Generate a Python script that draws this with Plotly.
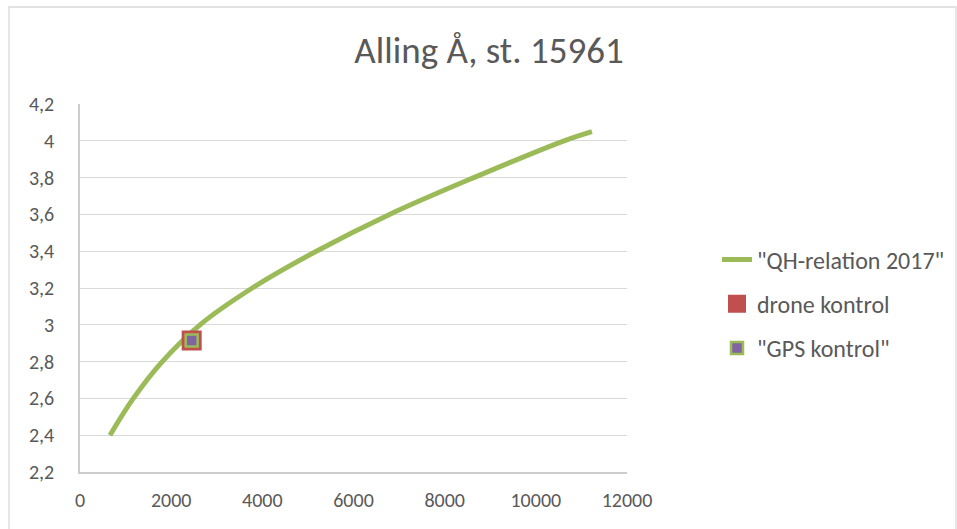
import plotly.graph_objects as go

# Rating curve (discharge Q vs stage H)
qh_q = [658, 1170, 1805, 2633, 3780, 5185, 6790, 8640, 10620, 11230]
qh_h = [2.40, 2.60, 2.80, 3.00, 3.20, 3.40, 3.60, 3.80, 4.00, 4.050]

# Control measurements
drone_q = [2450]
drone_h = [2.915]
gps_q = [2450]
gps_h = [2.915]

x_ticks = [0, 2000, 4000, 6000, 8000, 10000, 12000]
y_ticks = [2.2, 2.4, 2.6, 2.8, 3.0, 3.2, 3.4, 3.6, 3.8, 4.0, 4.2]

FONT = "Calibri, Carlito, Lato, sans-serif"
TEXT = "#595959"
GRID = "#D9D9D9"

W, H = 957, 529
L, R, T, B = 80, 627, 104, 472


def px_x(p):
    return (p - L) / (R - L)


def px_y(p):
    return (B - p) / (B - T)


fig = go.Figure()
fig.add_trace(go.Scatter(
    x=qh_q, y=qh_h, mode="lines", name='"QH-relation 2017"',
    line=dict(color="#9BBB59", width=5, shape="spline", smoothing=1),
    legendgroup="a",
))
fig.add_trace(go.Scatter(
    x=drone_q, y=drone_h, mode="markers", name="drone kontrol",
    marker=dict(symbol="square", size=18, color="#C0504D",
                line=dict(color="#C0504D", width=2)),
    legendgroup="b",
))
fig.add_trace(go.Scatter(
    x=gps_q, y=gps_h, mode="markers", name='"GPS kontrol"',
    marker=dict(symbol="square", size=12, color="#8064A2",
                line=dict(color="#9BBB59", width=2.5)),
    legendgroup="c",
))

fig.update_layout(
    width=W, height=H,
    margin=dict(l=L, r=W - R, t=T, b=H - B, autoexpand=False),
    paper_bgcolor="white", plot_bgcolor="white",
    separators=",.",
    font=dict(family=FONT, color=TEXT, size=20),
    title=dict(text="Alling Å, st. 15961", x=(489 - L) / (R - L), xref="paper",
               xanchor="center", y=1 - 50 / H, yanchor="middle",
               font=dict(family=FONT, size=37, color=TEXT)),
    xaxis=dict(range=[0, 12000], tickvals=x_ticks, tickformat="d",
               showgrid=False, zeroline=False, showline=True,
               linecolor="#CCCCCC", linewidth=1.5, ticks="",
               ticklabelstandoff=9,
               tickfont=dict(family=FONT, size=20, color=TEXT)),
    yaxis=dict(range=[2.2, 4.2], tickvals=y_ticks,
               showgrid=True, gridcolor=GRID, gridwidth=1.3,
               zeroline=False, showline=True, linecolor="#CCCCCC", linewidth=1.5,
               ticks="", ticklabelstandoff=20,
               tickfont=dict(family=FONT, size=20, color=TEXT)),
    legend=dict(x=px_x(717), xanchor="left", y=px_y(304), yanchor="middle",
                font=dict(family=FONT, size=24, color=TEXT),
                tracegroupgap=10, bgcolor="rgba(0,0,0,0)"),
    showlegend=True,
)

# Chart area border
fig.add_shape(type="rect", xref="paper", yref="paper",
              x0=px_x(9), x1=px_x(956), y0=px_y(540), y1=px_y(7),
              line=dict(color=GRID, width=1.3), fillcolor="rgba(0,0,0,0)",
              layer="below")

fig.write_html("out.html")
